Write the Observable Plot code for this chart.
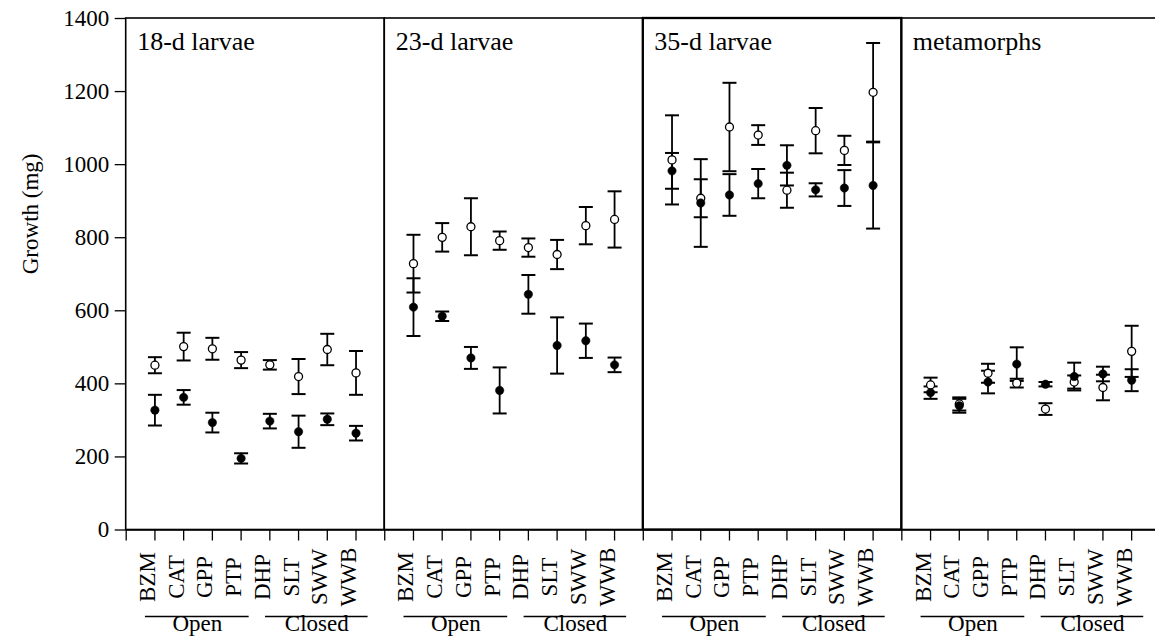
<!DOCTYPE html>
<html>
<head>
<meta charset="utf-8">
<script src="https://cdn.jsdelivr.net/npm/d3@7"></script>
<script src="https://cdn.jsdelivr.net/npm/@observablehq/plot@0.6"></script>
<style>
  html, body { margin: 0; padding: 0; background: #fff; overflow: hidden; }
  #chart svg { display: block; }
</style>
</head>
<body>
<div id="chart"></div>
<script>
// ---- Data ----
const panels = ["18-d larvae", "23-d larvae", "35-d larvae", "metamorphs"];
const sites = ["BZM", "CAT", "GPP", "PTP", "DHP", "SLT", "SWW", "WWB"];
const habitats = ["Open", "Closed"];
const yTicks = [0, 200, 400, 600, 800, 1000, 1200, 1400];

// 18-d larvae
const open18Mean   = [451, 502, 496, 465, 452, 420, 494, 430];
const open18SE     = [22, 38, 30, 22, 13, 48, 43, 60];
const filled18Mean = [328, 363, 294, 196, 298, 269, 303, 265];
const filled18SE   = [42, 20, 27, 14, 20, 44, 16, 20];
// 23-d larvae
const open23Mean   = [729, 801, 830, 792, 773, 754, 833, 850];
const open23SE     = [79, 39, 78, 25, 25, 40, 51, 77];
const filled23Mean = [610, 585, 471, 382, 645, 505, 518, 452];
const filled23SE   = [79, 13, 30, 63, 53, 77, 47, 20];
// 35-d larvae
const open35Mean   = [1013, 908, 1103, 1081, 930, 1093, 1039, 1198];
const open35SE     = [122, 52, 121, 27, 48, 62, 40, 135];
const filled35Mean = [983, 895, 917, 948, 998, 931, 936, 943];
const filled35SE   = [49, 120, 57, 40, 55, 18, 49, 118];
// metamorphs
const openMetaMean   = [397, 345, 429, 402, 331, 405, 390, 489];
const openMetaSE     = [20, 18, 26, 12, 16, 18, 35, 70];
const filledMetaMean = [376, 340, 405, 454, 399, 420, 427, 410];
const filledMetaSE   = [17, 19, 31, 46, 6, 38, 20, 30];

// ---- Build tables ----
const openMeans = [open18Mean, open23Mean, open35Mean, openMetaMean];
const openSEs = [open18SE, open23SE, open35SE, openMetaSE];
const filledMeans = [filled18Mean, filled23Mean, filled35Mean, filledMetaMean];
const filledSEs = [filled18SE, filled23SE, filled35SE, filledMetaSE];

const slot = 9; // 8 sites + one gap per panel
const rows = [];
const siteRows = [];
panels.forEach((panel, p) => {
  sites.forEach((site, i) => {
    const x = p * slot + i + 1;
    siteRows.push({ site, x });
    rows.push({ panel, site, x, type: "open", mean: openMeans[p][i], se: openSEs[p][i] });
    rows.push({ panel, site, x, type: "filled", mean: filledMeans[p][i], se: filledSEs[p][i] });
  });
});
const panelRows = panels.map((panel, p) => ({ panel, x1: p * slot, x2: (p + 1) * slot }));
const groupRows = [];
panels.forEach((panel, p) => {
  habitats.forEach((h, g) => {
    const first = p * slot + g * 4 + 1, last = first + 3;
    const lo = h === "Open" ? first - 0.33 : first - 0.15;
    const hi = h === "Open" ? last + 0.28 : last + 0.42;
    groupRows.push({ habitat: h, x1: lo, x2: hi, xm: (lo + hi) / 2 });
  });
});
const xTicks = d3.range(0, panels.length * slot);

const cap = {
  draw(ctx, size) {
    const w = Math.sqrt(size / Math.PI);
    ctx.moveTo(-w, 0);
    ctx.lineTo(w, 0);
  }
};

const chart = Plot.plot({
  width: 1155,
  height: 644,
  marginLeft: 125.7,
  marginRight: 0,
  marginTop: 18,
  marginBottom: 114.5,
  x: { domain: [0, 35.83] },
  y: { domain: [0, 1400] },
  style: { fontFamily: "'Liberation Serif', 'Times New Roman', serif", fontSize: "23px", color: "black", background: "white" },
  marks: [
    Plot.rect(panelRows, { x1: "x1", x2: "x2", y1: () => 0, y2: () => 1400, fill: "none", stroke: "black",
      strokeWidth: d => d.panel === "35-d larvae" ? 2.3 : 1.6 }),
    Plot.ruleY([0], { stroke: "black", strokeWidth: 1.6 }),
    Plot.axisY({ ticks: yTicks, tickSize: 11, tickPadding: 6, tickFormat: d => String(d), label: null, fontSize: 23, strokeWidth: 1.3 }),
    Plot.axisX({ ticks: xTicks, tickSize: 11, tickFormat: () => "", label: null, strokeWidth: 1.3 }),
    Plot.text(panelRows, { x: "x1", y: () => 1400, text: "panel", dx: 11, dy: 23, textAnchor: "start", fontSize: 26 }),
    Plot.ruleX(rows, { x: "x", y1: d => d.mean - d.se, y2: d => d.mean + d.se, stroke: "black", strokeWidth: 1.8 }),
    Plot.dot(rows, { x: "x", y: d => d.mean - d.se, symbol: cap, r: 7, stroke: "black", strokeWidth: 2 }),
    Plot.dot(rows, { x: "x", y: d => d.mean + d.se, symbol: cap, r: 7, stroke: "black", strokeWidth: 2 }),
    Plot.dot(rows.filter(d => d.type === "open"), { x: "x", y: "mean", r: 4, fill: "white", stroke: "black", strokeWidth: 1.3 }),
    Plot.dot(rows.filter(d => d.type === "filled"), { x: "x", y: "mean", r: 4.2, fill: "black", stroke: "black", strokeWidth: 0.5 }),
    Plot.text(siteRows, { x: "x", text: "site", frameAnchor: "bottom", dy: 47, rotate: -90, fontSize: 23 }),
    Plot.ruleY(groupRows, { y: () => 0, x1: "x1", x2: "x2", dy: 86.5, stroke: "black", strokeWidth: 1.5 }),
    Plot.text(groupRows, { x: "xm", text: "habitat", frameAnchor: "bottom", dy: 101, fontSize: 23 }),
    Plot.text(["Growth (mg)"], { frameAnchor: "left", dx: -96, rotate: -90, fontSize: 23 })
  ]
});

document.getElementById("chart").appendChild(chart);
</script>
</body>
</html>
